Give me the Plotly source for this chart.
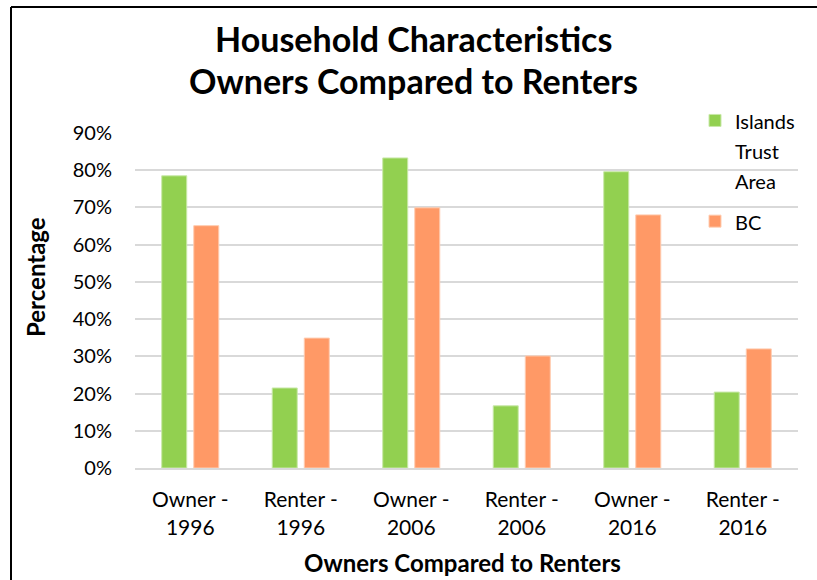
import plotly.graph_objects as go

categories = ["Owner - 1996", "Renter - 1996", "Owner - 2006", "Renter - 2006", "Owner - 2016", "Renter - 2016"]
tick_labels = ["Owner -<br>1996", "Renter -<br>1996", "Owner -<br>2006", "Renter -<br>2006", "Owner -<br>2016", "Renter -<br>2016"]
islands_trust = [78.5, 21.5, 83.3, 16.7, 79.6, 20.4]
bc = [65.1, 34.9, 69.9, 30.1, 68.0, 32.0]
y_ticks = [0, 10, 20, 30, 40, 50, 60, 70, 80, 90]
y_tick_labels = ["0%", "10%", "20%", "30%", "40%", "50%", "60%", "70%", "80%", "90%"]

W, H = 817, 580
L, R, T, B = 135, 798, 133, 468
FONT = "Lato"

def px_x(p):
    return (p - L) / (R - L)

def px_y(p):
    return (B - p) / (B - T)

fig = go.Figure()
fig.add_trace(go.Bar(
    x=categories, y=islands_trust, legendgroup="g1",
    name="<span style='font-size:20px'>Islands<br>Trust<br>Area</span>",
    marker=dict(color="#92D050", line=dict(color="#C8E8A8", width=1)),
))
fig.add_trace(go.Bar(
    x=categories, y=bc, legendgroup="g2",
    name="<span style='font-size:20px'>BC</span>",
    marker=dict(color="#FF9966", line=dict(color="#FFCCB0", width=1)),
))

fig.update_layout(
    width=W, height=H,
    margin=dict(l=L, r=W - R, t=T, b=H - B, pad=0, autoexpand=False),
    paper_bgcolor="white", plot_bgcolor="white",
    barmode="group", bargap=0.42, bargroupgap=0.22,
    font=dict(family=FONT, color="#000000", size=18),
    showlegend=True,
    legend=dict(
        x=px_x(695), y=px_y(99), xanchor="left", yanchor="top",
        bgcolor="rgba(0,0,0,0)", font=dict(size=23, family=FONT, color="#000"),
        valign="top", tracegroupgap=8, itemwidth=30,
    ),
)
fig.update_xaxes(
    tickvals=categories, ticktext=tick_labels,
    showgrid=False, showline=True, linecolor="#D9D9D9", linewidth=2,
    ticks="", ticklabelstandoff=12,
    tickfont=dict(size=21, family=FONT, color="#000"),
)
fig.update_yaxes(
    range=[0, 90], tickvals=y_ticks, ticktext=y_tick_labels,
    showgrid=True, gridcolor="#D9D9D9", gridwidth=2,
    zeroline=False, showline=False, ticks="", ticklabelstandoff=22,
    tickfont=dict(size=20, family=FONT, color="#000"),
)

annotations = [
    dict(text="<b>Household Characteristics</b>", x=px_x(413), y=px_y(38),
         font=dict(size=34, family=FONT, color="#000")),
    dict(text="<b>Owners Compared to Renters</b>", x=px_x(413), y=px_y(80),
         font=dict(size=34, family=FONT, color="#000")),
    dict(text="<b>Owners Compared to Renters</b>", x=px_x(462), y=px_y(562),
         font=dict(size=24, family=FONT, color="#000")),
    dict(text="<b>Percentage</b>", x=px_x(35), y=px_y(277), textangle=-90,
         font=dict(size=24, family=FONT, color="#000")),
]
for a in annotations:
    fig.add_annotation(xref="paper", yref="paper", showarrow=False,
                       xanchor="center", yanchor="middle", **a)

# frame border (left and top)
fig.add_shape(type="line", xref="paper", yref="paper",
              x0=px_x(11), x1=px_x(11), y0=px_y(7), y1=px_y(600),
              line=dict(color="black", width=2))
fig.add_shape(type="line", xref="paper", yref="paper",
              x0=px_x(11), x1=px_x(830), y0=px_y(7), y1=px_y(7),
              line=dict(color="black", width=2))

fig.write_html("out.html", config={"displayModeBar": False},
               post_script="document.body.style.margin='0';document.body.style.overflow='hidden';")
